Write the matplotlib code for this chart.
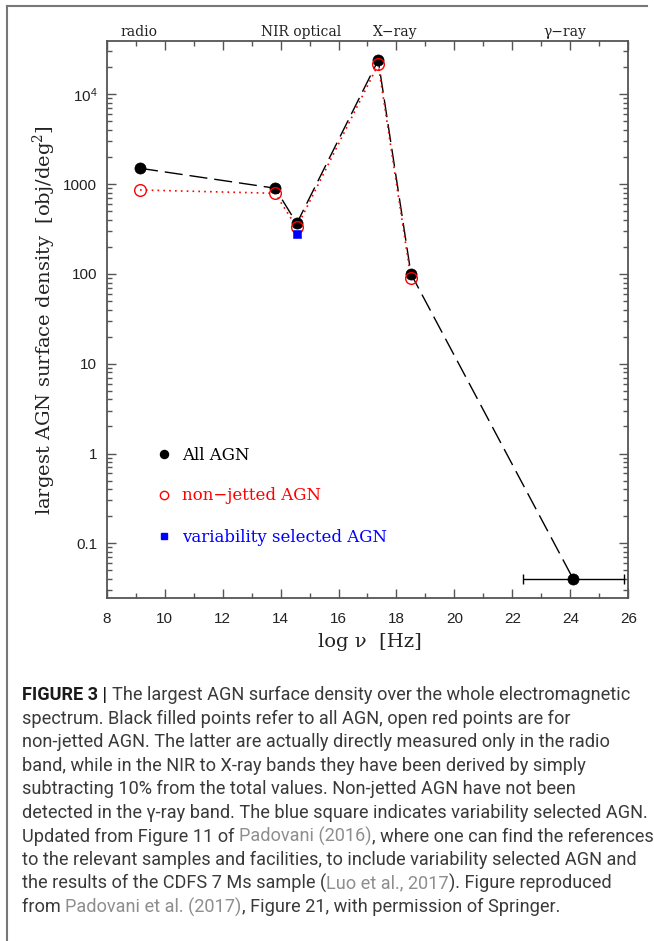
import matplotlib
matplotlib.use('Agg')
import matplotlib.pyplot as plt
from matplotlib.lines import Line2D
from matplotlib.transforms import IdentityTransform, blended_transform_factory
from matplotlib.ticker import FixedLocator, FixedFormatter, MultipleLocator, LogLocator, NullFormatter
from matplotlib import font_manager

# ---------------- data ----------------
all_x = [9.15, 13.81, 14.56, 17.37, 18.50, 24.10]
all_y = [1500, 900, 365, 24000, 100, 0.040]
nonjet_x = [9.15, 13.81, 14.56, 17.37, 18.50]
nonjet_y = [860, 790, 330, 21500, 89]
var_x = [14.56]
var_y = [276]
gamma_xerr_lo = [1.73]
gamma_xerr_hi = [1.75]

band_labels = ['radio', 'NIR optical', 'X\u2212ray', '\u03b3\u2212ray']
band_x = [9.1, 14.7, 17.95, 23.8]

xtick_vals = [8, 10, 12, 14, 16, 18, 20, 22, 24, 26]
ytick_vals = [0.1, 1, 10, 100, 1000, 1e4]
ytick_labels = ['0.1', '1', '10', '100', '1000', r'$\mathregular{10^4}$']
legend_labels = ['All AGN', 'non\u2212jetted AGN', 'variability selected AGN']
legend_colors = ['black', 'red', 'blue']

caption_lines = [
    [('FIGURE 3 | ', 'bold'), ('The largest AGN surface density over the whole electromagnetic', 'txt')],
    [('spectrum. Black filled points refer to all AGN, open red points are for', 'txt')],
    [('non-jetted AGN. The latter are actually directly measured only in the radio', 'txt')],
    [('band, while in the NIR to X-ray bands they have been derived by simply', 'txt')],
    [('subtracting 10% from the total values. Non-jetted AGN have not been', 'txt')],
    [('detected in the \u03b3-ray band. The blue square indicates variability selected AGN.', 'txt')],
    [('Updated from Figure 11 of ', 'txt'), ('Padovani (2016)', 'ref'), (', where one can find the references', 'txt')],
    [('to the relevant samples and facilities, to include variability selected AGN and', 'txt')],
    [('the results of the CDFS 7 Ms sample (', 'txt'), ('Luo et al., 2017', 'ref'), ('). Figure reproduced', 'txt')],
    [('from ', 'txt'), ('Padovani et al. (2017)', 'ref'), (', Figure 21, with permission of Springer.', 'txt')],
]

# ---------------- style ----------------
plt.rcParams['font.family'] = 'sans-serif'
plt.rcParams['font.sans-serif'] = ['Liberation Sans', 'DejaVu Sans']
plt.rcParams['mathtext.fontset'] = 'dejavuserif'

avail = {f.name for f in font_manager.fontManager.ttflist}
cap_font = 'Roboto' if 'Roboto' in avail else 'Liberation Sans'
serif = 'DejaVu Serif'

W, H = 654, 941
fig = plt.figure(figsize=(W / 100, H / 100), dpi=100)
fig.patch.set_facecolor('white')

L, R, T, B = 106.7, 628.3, 40.7, 597.7
ax = fig.add_axes([L / W, 1 - B / H, (R - L) / W, (B - T) / H])
ax.set_yscale('log')
ax.set_xlim(8, 26)
ax.set_ylim(0.0248, 39500)

# lines
ln_all, = ax.plot(all_x, all_y, color='black', lw=1.0, zorder=2)
ln_all.set_dashes((13, 5))
ax.plot(nonjet_x, nonjet_y, color='red', lw=1.2, linestyle=(0, (1, 2.5)), zorder=2)

# error bar on gamma point
ax.errorbar(all_x[-1:], all_y[-1:], xerr=[gamma_xerr_lo, gamma_xerr_hi], fmt='none',
            ecolor='black', elinewidth=1.0, capsize=3.6, capthick=1.0, zorder=2)

# markers
ax.plot(all_x, all_y, 'o', color='black', ms=8.0, mew=0.5, zorder=3)
ax.plot(nonjet_x, nonjet_y, 'o', mfc='none', mec='red', mew=1.0, ms=8.4, zorder=4)
ax.plot(var_x, var_y, 's', color='blue', ms=5.8, mew=0.4, zorder=5)

# ticks
ax.xaxis.set_major_locator(FixedLocator(xtick_vals))
ax.xaxis.set_minor_locator(MultipleLocator(1))
ax.yaxis.set_major_locator(FixedLocator(ytick_vals))
ax.yaxis.set_major_formatter(FixedFormatter(ytick_labels))
ax.yaxis.set_minor_locator(LogLocator(base=10, subs=range(2, 10), numticks=30))
ax.yaxis.set_minor_formatter(NullFormatter())
ax.tick_params(which='both', direction='in', top=True, right=True, color='#555555', labelcolor='#222222')
ax.tick_params(which='major', length=6.5, width=1.0)
ax.tick_params(which='minor', length=3.6, width=1.0)
ax.tick_params(axis='x', labelsize=11, pad=10)
ax.tick_params(axis='y', labelsize=11, pad=6.8)
for s in ax.spines.values():
    s.set_color('#555555')
    s.set_linewidth(1.3)

# axis labels
ax.set_xlabel('log \u03bd  [Hz]', family=serif, fontsize=14, color='#222222')
ax.xaxis.label.set_va('center')
ax.xaxis.set_label_coords((370 - L) / (R - L), (B - 641.7) / (B - T))
ax.set_ylabel('largest AGN surface density  [obj/deg$^2$]', family=serif, fontsize=14, color='#222222')
ax.yaxis.label.set_va('center')
ax.yaxis.label.set_rotation_mode('default')
ax.yaxis.set_label_coords((44 - L) / (R - L), (B - 320) / (B - T))

# band labels
btr = blended_transform_factory(ax.transData, ax.transAxes)
for lab, bx in zip(band_labels, band_x):
    ax.text(bx, 1 + 5 / (B - T), lab, transform=btr, ha='center', va='baseline',
            family=serif, fontsize=10, color='#222222')

# legend
handles = [
    Line2D([], [], marker='o', ls='none', color='black', ms=5.8),
    Line2D([], [], marker='o', ls='none', mfc='none', mec='red', mew=1.0, ms=6.0),
    Line2D([], [], marker='s', ls='none', color='blue', ms=4.2),
]
ax.legend(handles, legend_labels, loc='upper left',
          bbox_to_anchor=((159.3 - L) / (R - L), (B - 446.5) / (B - T)),
          frameon=False, borderpad=0, borderaxespad=0, handlelength=0.6,
          handletextpad=0.74, labelspacing=1.44,
          prop={'family': serif, 'size': 12}, labelcolor=legend_colors)

# page frame (top and left rules)
fig.add_artist(Line2D([7 / W, 7 / W], [0, 1 - 6 / H], transform=fig.transFigure, color='#777777', lw=1.5))
fig.add_artist(Line2D([7 / W, 647 / W], [1 - 6 / H, 1 - 6 / H], transform=fig.transFigure, color='#777777', lw=1.5))

# caption
renderer = fig.canvas.get_renderer()
colors = {'txt': '#3a3a3a', 'ref': '#8e8e8e', 'bold': '#1a1a1a'}


def twidth(s, fs, weight):
    t1 = fig.text(0, 0, s + '|', fontsize=fs, family=cap_font, fontweight=weight, transform=IdentityTransform())
    t2 = fig.text(0, 0, '|', fontsize=fs, family=cap_font, fontweight=weight, transform=IdentityTransform())
    w = t1.get_window_extent(renderer).width - t2.get_window_extent(renderer).width
    t1.remove()
    t2.remove()
    return w


base_fs = 12
w6 = twidth(caption_lines[5][0][0], base_fs, 'normal')
cap_fs = base_fs * (645 - 22) / w6

x0, y0, dy = 22, 700, 23.6
for i, line in enumerate(caption_lines):
    x = x0
    ybase = H - (y0 + i * dy)
    for txt, kind in line:
        wt = 'bold' if kind == 'bold' else 'normal'
        fig.text(x, ybase, txt, fontsize=cap_fs, family=cap_font, fontweight=wt,
                 color=colors[kind], va='baseline', ha='left', transform=IdentityTransform())
        x += twidth(txt, cap_fs, wt)

fig.savefig('out.png', dpi=100, facecolor='white')
